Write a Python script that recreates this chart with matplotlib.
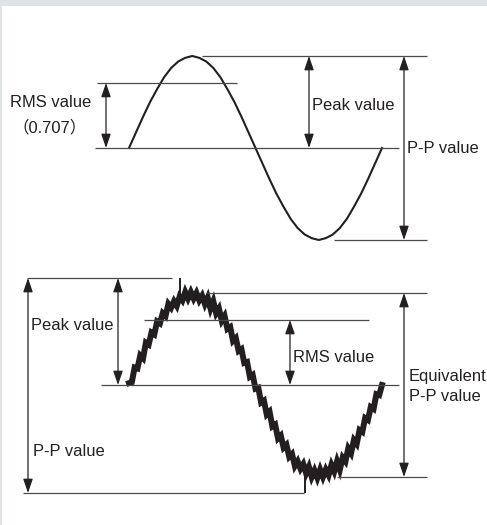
import matplotlib.pyplot as plt
from matplotlib.patches import FancyArrowPatch, Rectangle

# ===================== DADOS =====================
# onda limpa (painel de cima): fase em graus e valor relativo ao pico
clean_deg = list(range(0, 361, 10))
clean_val = [0.00, 0.17, 0.34, 0.50, 0.64, 0.77, 0.87, 0.94, 0.98, 1.00,
             0.98, 0.94, 0.87, 0.77, 0.64, 0.50, 0.34, 0.17, 0.00,
             -0.17, -0.34, -0.50, -0.64, -0.77, -0.87, -0.94, -0.98, -1.00,
             -0.98, -0.94, -0.87, -0.77, -0.64, -0.50, -0.34, -0.17, 0.00]

# onda com ruido (painel de baixo)
noisy_deg = list(range(0, 361, 4))
noisy_val = [0.02, 0.03, 0.19, 0.18, 0.32, 0.29, 0.46, 0.44, 0.57, 0.55,
             0.69, 0.67, 0.78, 0.75, 0.88, 0.84, 0.91, 0.86, 0.96, 0.92,
             1.01, 0.94, 1.01, 0.94, 1.00, 0.92, 0.97, 0.88, 0.95, 0.83,
             0.91, 0.78, 0.83, 0.70, 0.75, 0.61, 0.63, 0.48, 0.51, 0.37,
             0.39, 0.24, 0.25, 0.09, 0.11, -0.04, -0.03, -0.19, -0.17, -0.32,
             -0.29, -0.45, -0.43, -0.58, -0.55, -0.68, -0.65, -0.78, -0.75, -0.88,
             -0.83, -0.91, -0.86, -0.96, -0.89, -1.00, -0.93, -1.01, -0.92, -1.00,
             -0.92, -0.98, -0.87, -0.94, -0.83, -0.92, -0.79, -0.83, -0.69, -0.74,
             -0.60, -0.64, -0.49, -0.51, -0.36, -0.38, -0.24, -0.26, -0.10, -0.11,
             0.00]
spike_deg = [72, 251]
spike_from = [0.96, -0.95]
spike_to = [1.163, -1.174]

RMS = 0.707
EQ_PEAK = 1.0

# ===================== GEOMETRIA (pixels) =====================
W, H, DPI = 487, 525, 100
X0_PX = 129
PX_PER_DEG = 253 / 360
AMP_PX = 92
INK = '#231f20'
LINE = '#4a4a4a'
FS = 11.9
FONT = ['Liberation Sans', 'Noto Sans CJK JP', 'DejaVu Sans']

fig = plt.figure(figsize=(W / DPI, H / DPI), dpi=DPI)
fig.patch.set_facecolor('#dfe3e6')
fig.patches.append(Rectangle((2 / W, 0), 1, (H - 6) / H, transform=fig.transFigure,
                             facecolor='white', edgecolor='none', zorder=-5))


def make_axes(base_px):
    ax = fig.add_axes([0, 0, 1, 1])
    ax.set_xlim(-X0_PX / PX_PER_DEG, (W - X0_PX) / PX_PER_DEG)
    ax.set_ylim((base_px - H) / AMP_PX, base_px / AMP_PX)
    ax.axis('off')
    ax.patch.set_alpha(0)
    return ax


def deg(px):
    return (px - X0_PX) / PX_PER_DEG


def hline(ax, y, x1, x2):
    ax.plot([deg(x1), deg(x2)], [y, y], color=LINE, lw=0.9, solid_capstyle='butt')


def arrow(ax, x, y1, y2):
    ax.add_patch(FancyArrowPatch((deg(x), y1), (deg(x), y2),
                                 arrowstyle='<|-|>,head_length=8.5,head_width=2.9',
                                 mutation_scale=1, shrinkA=0, shrinkB=0,
                                 color=INK, lw=0.9))


def label(ax, x, y, s, ha='left'):
    ax.text(deg(x), y, s, ha=ha, va='center', fontsize=FS, color=INK, family=FONT)


# ===================== PAINEL DE CIMA =====================
ax1 = make_axes(148)
ax1.plot(clean_deg, clean_val, color=INK, lw=1.5)
hline(ax1, 0, 95, 399)
hline(ax1, max(clean_val), 202, 427)
hline(ax1, RMS, 97, 237)
hline(ax1, min(clean_val), 334, 427)
arrow(ax1, 106, RMS, 0)
arrow(ax1, 309, max(clean_val), 0)
arrow(ax1, 404, max(clean_val), min(clean_val))
label(ax1, 10, 0.49, 'RMS value')
label(ax1, 50, 0.217, '（0.707）', ha='center')
label(ax1, 312, 0.467, 'Peak value')
label(ax1, 407, -0.01, 'P-P value')

# ===================== PAINEL DE BAIXO =====================
ax2 = make_axes(385)
ax2.plot(noisy_deg, noisy_val, color=INK, lw=4.3, solid_joinstyle='miter')
ax2.vlines(spike_deg, spike_from, spike_to, color=INK, lw=1.4)
hline(ax2, 0, 101, 399)
hline(ax2, spike_to[0], 27, 172)
hline(ax2, EQ_PEAK, 207, 427)
hline(ax2, RMS, 144, 369)
hline(ax2, spike_to[1], 23, 304)
hline(ax2, -EQ_PEAK, 337, 427)
arrow(ax2, 28, spike_to[0], spike_to[1])
arrow(ax2, 118, spike_to[0], 0)
arrow(ax2, 290, RMS, 0)
arrow(ax2, 404, EQ_PEAK, -EQ_PEAK)
label(ax2, 31, 0.652, 'Peak value')
label(ax2, 33, -0.728, 'P-P value')
label(ax2, 293, 0.304, 'RMS value')
label(ax2, 409, 0.087, 'Equivalent')
label(ax2, 409, -0.13, 'P-P value')

fig.savefig('out.png', dpi=DPI, facecolor=fig.get_facecolor())
